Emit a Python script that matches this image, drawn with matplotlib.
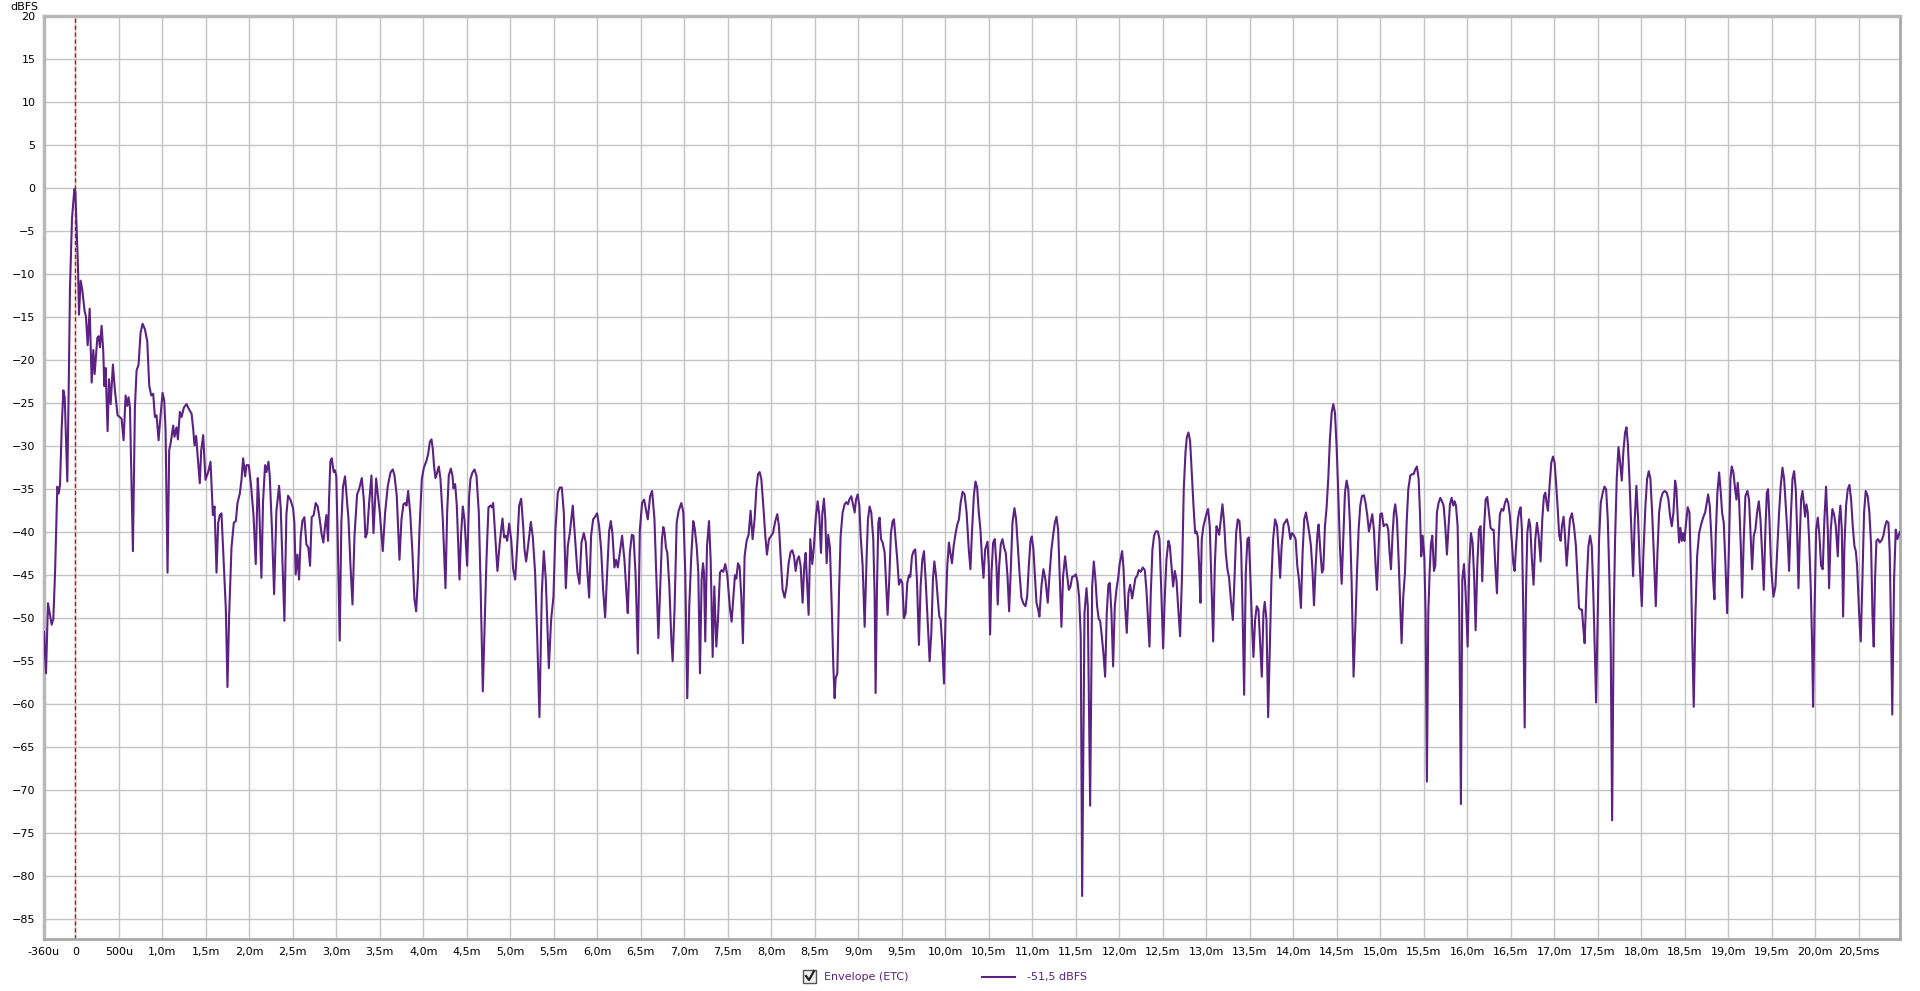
import matplotlib.pyplot as plt
from matplotlib.lines import Line2D
from matplotlib.patches import Rectangle

t_ms = [
    -0.36, -0.337, -0.314, -0.272, -0.253, -0.233, -0.207, -0.191, -0.176, -0.157,
    -0.138, -0.122, -0.092, -0.077, -0.061, -0.038, -0.011, 0.0, 0.015, 0.031,
    0.042, 0.061, 0.080, 0.107, 0.122, 0.142, 0.165, 0.188, 0.207, 0.222,
    0.253, 0.268, 0.283, 0.302, 0.321, 0.333, 0.348, 0.371, 0.387, 0.406,
    0.432, 0.455, 0.486, 0.532, 0.555, 0.578, 0.597, 0.612, 0.628, 0.662,
    0.685, 0.704, 0.727, 0.750, 0.773, 0.800, 0.827, 0.850, 0.873, 0.895,
    0.915, 0.934, 0.957, 0.980, 1.003, 1.022, 1.037, 1.060, 1.079, 1.098,
    1.125, 1.140, 1.163, 1.179, 1.202, 1.221, 1.248, 1.278, 1.309, 1.336,
    1.355, 1.370, 1.389, 1.408, 1.431, 1.447, 1.470, 1.496, 1.527, 1.554,
    1.569, 1.581, 1.600, 1.623, 1.642, 1.661, 1.680, 1.707, 1.730, 1.749,
    1.768, 1.795, 1.822, 1.845, 1.864, 1.891, 1.910, 1.929, 1.952, 1.967,
    1.994, 2.021, 2.048, 2.074, 2.097, 2.112, 2.139, 2.158, 2.181, 2.197,
    2.220, 2.235, 2.262, 2.285, 2.311, 2.342, 2.361, 2.384, 2.403, 2.426,
    2.445, 2.472, 2.503, 2.518, 2.533, 2.553, 2.572, 2.591, 2.610, 2.633,
    2.656, 2.679, 2.698, 2.717, 2.740, 2.763, 2.786, 2.809, 2.832, 2.851,
    2.870, 2.886, 2.905, 2.916, 2.931, 2.947, 2.970, 2.985, 3.000, 3.020,
    3.039, 3.058, 3.077, 3.100, 3.140, 3.163, 3.186, 3.209, 3.239, 3.262,
    3.293, 3.316, 3.335, 3.354, 3.377, 3.404, 3.427, 3.458, 3.477, 3.500,
    3.534, 3.561, 3.592, 3.623, 3.649, 3.669, 3.695, 3.726, 3.749, 3.772,
    3.791, 3.807, 3.826, 3.849, 3.875, 3.898, 3.918, 3.937, 3.956, 3.983,
    4.006, 4.036, 4.056, 4.075, 4.094, 4.109, 4.124, 4.140, 4.159, 4.178,
    4.197, 4.224, 4.255, 4.274, 4.293, 4.316, 4.335, 4.347, 4.366, 4.385,
    4.416, 4.435, 4.454, 4.473, 4.504, 4.527, 4.542, 4.565, 4.588, 4.611,
    4.638, 4.657, 4.684, 4.703, 4.726, 4.749, 4.772, 4.787, 4.803, 4.826,
    4.852, 4.879, 4.910, 4.929, 4.948, 4.964, 4.987, 5.010, 5.033, 5.056,
    5.079, 5.102, 5.125, 5.148, 5.163, 5.182, 5.209, 5.236, 5.259, 5.285,
    5.308, 5.335, 5.362, 5.385, 5.408, 5.443, 5.469, 5.496, 5.519, 5.546,
    5.569, 5.592, 5.615, 5.638, 5.661, 5.684, 5.718, 5.745, 5.772, 5.795,
    5.818, 5.845, 5.868, 5.887, 5.906, 5.929, 5.952, 5.975, 5.998, 6.021,
    6.044, 6.067, 6.090, 6.113, 6.136, 6.155, 6.174, 6.197, 6.216, 6.236,
    6.259, 6.285, 6.312, 6.335, 6.350, 6.374, 6.397, 6.416, 6.439, 6.466,
    6.489, 6.515, 6.538, 6.565, 6.580, 6.607, 6.630, 6.657, 6.680, 6.702,
    6.724, 6.743, 6.759, 6.774, 6.789, 6.805, 6.828, 6.851, 6.866, 6.889,
    6.912, 6.935, 6.966, 6.989, 7.011, 7.034, 7.057, 7.080, 7.103, 7.119,
    7.142, 7.161, 7.180, 7.199, 7.215, 7.226, 7.241, 7.261, 7.284, 7.303,
    7.326, 7.345, 7.368, 7.387, 7.410, 7.429, 7.448, 7.471, 7.494, 7.525,
    7.544, 7.567, 7.582, 7.598, 7.617, 7.636, 7.655, 7.674, 7.693, 7.716,
    7.739, 7.762, 7.785, 7.808, 7.828, 7.847, 7.866, 7.885, 7.908, 7.931,
    7.950, 7.973, 8.000, 8.019, 8.046, 8.069, 8.088, 8.107, 8.130, 8.153,
    8.176, 8.199, 8.222, 8.241, 8.261, 8.280, 8.299, 8.318, 8.337, 8.360,
    8.379, 8.395, 8.410, 8.429, 8.448, 8.471, 8.490, 8.513, 8.533, 8.552,
    8.571, 8.586, 8.605, 8.621, 8.636, 8.655, 8.674, 8.697, 8.713, 8.728,
    8.739, 8.759, 8.778, 8.797, 8.820, 8.843, 8.862, 8.881, 8.897, 8.920,
    8.939, 8.958, 8.974, 8.993, 9.012, 9.027, 9.050, 9.073, 9.096, 9.111,
    9.130, 9.149, 9.172, 9.188, 9.199, 9.215, 9.230, 9.245, 9.261, 9.280,
    9.303, 9.322, 9.337, 9.356, 9.375, 9.395, 9.410, 9.429, 9.448, 9.467,
    9.487, 9.506, 9.525, 9.544, 9.563, 9.582, 9.598, 9.617, 9.636, 9.655,
    9.674, 9.697, 9.716, 9.736, 9.755, 9.774, 9.797, 9.820, 9.839, 9.858,
    9.874, 9.893, 9.912, 9.931, 9.946, 9.966, 9.985, 10.004, 10.023, 10.042,
    10.061, 10.077, 10.096, 10.119, 10.138, 10.157, 10.176, 10.199, 10.222, 10.245,
    10.270, 10.289, 10.308, 10.328, 10.347, 10.366, 10.385, 10.404, 10.423, 10.439,
    10.458, 10.485, 10.500, 10.515, 10.531, 10.550, 10.569, 10.588, 10.603, 10.619,
    10.638, 10.657, 10.676, 10.695, 10.715, 10.734, 10.753, 10.772, 10.795, 10.814,
    10.833, 10.853, 10.875, 10.898, 10.921, 10.941, 10.960, 10.979, 10.994, 11.013,
    11.033, 11.048, 11.067, 11.082, 11.105, 11.128, 11.151, 11.178, 11.197, 11.220,
    11.239, 11.259, 11.278, 11.297, 11.316, 11.335, 11.354, 11.377, 11.397, 11.420,
    11.439, 11.458, 11.481, 11.500, 11.519, 11.538, 11.557, 11.573, 11.600, 11.623,
    11.638, 11.665, 11.688, 11.707, 11.726, 11.745, 11.764, 11.780, 11.799, 11.818,
    11.837, 11.856, 11.875, 11.891, 11.910, 11.929, 11.948, 11.967, 11.990, 12.004,
    12.033, 12.048, 12.067, 12.086, 12.105, 12.125, 12.148, 12.167, 12.186, 12.205,
    12.224, 12.247, 12.270, 12.293, 12.312, 12.331, 12.347, 12.362, 12.381, 12.400,
    12.420, 12.443, 12.462, 12.481, 12.504, 12.523, 12.542, 12.565, 12.581, 12.600,
    12.619, 12.638, 12.657, 12.676, 12.699, 12.722, 12.741, 12.761, 12.776, 12.795,
    12.814, 12.833, 12.853, 12.872, 12.887, 12.902, 12.918, 12.933, 12.948, 12.967,
    12.987, 13.006, 13.021, 13.040, 13.059, 13.079, 13.098, 13.117, 13.132, 13.148,
    13.167, 13.186, 13.205, 13.224, 13.243, 13.262, 13.282, 13.305, 13.324, 13.343,
    13.362, 13.381, 13.400, 13.416, 13.435, 13.454, 13.473, 13.489, 13.508, 13.527,
    13.542, 13.561, 13.580, 13.600, 13.619, 13.638, 13.657, 13.672, 13.692, 13.711,
    13.730, 13.749, 13.768, 13.791, 13.814, 13.833, 13.849, 13.866, 13.889, 13.908,
    13.927, 13.946, 13.966, 13.985, 14.004, 14.027, 14.046, 14.065, 14.088, 14.107,
    14.126, 14.146, 14.165, 14.184, 14.203, 14.222, 14.238, 14.257, 14.276, 14.291,
    14.310, 14.330, 14.345, 14.364, 14.383, 14.402, 14.421, 14.441, 14.460, 14.479,
    14.498, 14.517, 14.536, 14.556, 14.575, 14.594, 14.613, 14.632, 14.651, 14.670,
    14.693, 14.713, 14.732, 14.751, 14.770, 14.789, 14.812, 14.831, 14.851, 14.870,
    14.889, 14.908, 14.927, 14.946, 14.962, 14.981, 15.000, 15.019, 15.038, 15.057,
    15.077, 15.092, 15.107, 15.123, 15.142, 15.157, 15.172, 15.192, 15.211, 15.230,
    15.245, 15.264, 15.284, 15.303, 15.322, 15.345, 15.364, 15.383, 15.402, 15.421,
    15.441, 15.456, 15.471, 15.487, 15.506, 15.521, 15.536, 15.552, 15.567, 15.582,
    15.598, 15.617, 15.632, 15.651, 15.670, 15.690, 15.709, 15.728, 15.747, 15.766,
    15.785, 15.801, 15.820, 15.839, 15.854, 15.870, 15.889, 15.908, 15.927, 15.943,
    15.962, 15.981, 16.004, 16.023, 16.042, 16.061, 16.080, 16.096, 16.115, 16.134,
    16.153, 16.172, 16.192, 16.211, 16.230, 16.249, 16.268, 16.287, 16.303, 16.322,
    16.341, 16.360, 16.375, 16.395, 16.414, 16.433, 16.452, 16.471, 16.490, 16.510,
    16.529, 16.544, 16.563, 16.582, 16.598, 16.613, 16.628, 16.644, 16.660, 16.674,
    16.690, 16.709, 16.724, 16.743, 16.762, 16.782, 16.801, 16.820, 16.843, 16.862,
    16.881, 16.897, 16.912, 16.927, 16.946, 16.966, 16.985, 17.004, 17.023, 17.042,
    17.057, 17.073, 17.088, 17.107, 17.123, 17.142, 17.161, 17.180, 17.203, 17.226,
    17.249, 17.268, 17.284, 17.303, 17.318, 17.333, 17.349, 17.374, 17.393, 17.412,
    17.431, 17.450, 17.469, 17.481, 17.500, 17.515, 17.534, 17.557, 17.577, 17.596,
    17.615, 17.634, 17.649, 17.665, 17.684, 17.699, 17.718, 17.738, 17.757, 17.776,
    17.795, 17.814, 17.830, 17.845, 17.864, 17.883, 17.906, 17.925, 17.944, 17.964,
    17.983, 18.006, 18.025, 18.048, 18.067, 18.086, 18.105, 18.125, 18.144, 18.167,
    18.186, 18.205, 18.224, 18.247, 18.270, 18.293, 18.312, 18.331, 18.351, 18.370,
    18.389, 18.404, 18.420, 18.435, 18.450, 18.466, 18.481, 18.496, 18.515, 18.534,
    18.554, 18.573, 18.588, 18.603, 18.623, 18.642, 18.665, 18.688, 18.711, 18.734,
    18.753, 18.768, 18.787, 18.807, 18.826, 18.841, 18.856, 18.875, 18.895, 18.914,
    18.929, 18.948, 18.967, 18.987, 19.006, 19.025, 19.040, 19.059, 19.079, 19.094,
    19.109, 19.124, 19.144, 19.159, 19.178, 19.197, 19.220, 19.239, 19.259, 19.274,
    19.293, 19.312, 19.331, 19.351, 19.370, 19.389, 19.408, 19.427, 19.443, 19.458,
    19.473, 19.492, 19.519, 19.542, 19.561, 19.584, 19.603, 19.623, 19.642, 19.661,
    19.680, 19.699, 19.718, 19.738, 19.757, 19.776, 19.791, 19.807, 19.822, 19.837,
    19.853, 19.868, 19.883, 19.898, 19.914, 19.929, 19.948, 19.964, 19.975, 19.991,
    20.010, 20.029, 20.048, 20.067, 20.086, 20.105, 20.124, 20.144, 20.159, 20.178,
    20.197, 20.216, 20.236, 20.259, 20.274, 20.289, 20.305, 20.320, 20.335, 20.354,
    20.374, 20.393, 20.412, 20.431, 20.450, 20.466, 20.481, 20.504, 20.523, 20.542,
    20.561, 20.580, 20.603, 20.622, 20.642, 20.657, 20.672, 20.687, 20.703, 20.722,
    20.741, 20.764, 20.783, 20.802, 20.821, 20.841, 20.856, 20.871, 20.885, 20.906,
    20.925, 20.944, 20.970,
]

level_db = [
    -51.6, -56.4, -48.25, -50.75, -50.1, -44.7, -34.7, -35.5, -34.5, -28,
    -23.5, -24.3, -34.1, -23.9, -11.4, -3.5, -0.1, -0.3, -4.7, -9.3,
    -14.7, -10.75, -11.8, -14.3, -14.9, -18.25, -14, -22.6, -18.8, -21.6,
    -17.4, -17.2, -18.5, -16, -18.9, -23, -20.9, -28.25, -22.2, -25.1,
    -20.5, -23.5, -26.4, -26.8, -29.3, -24.1, -25.3, -24.3, -25.5, -42.2,
    -25.5, -21.2, -20.5, -16.8, -15.75, -16.4, -17.8, -23, -24.1, -23.9,
    -26.6, -26.4, -29.3, -26.4, -23.8, -24.7, -28, -44.7, -30.5, -29.5,
    -27.6, -28.9, -27.8, -29.2, -26, -26.6, -25.5, -25.1, -25.75, -26.2,
    -28, -29.9, -28.8, -31.4, -34.3, -30.5, -28.7, -33.9, -33, -31.8,
    -35.1, -38, -37, -44.7, -38.9, -38, -37.8, -43.7, -48.9, -58,
    -49.7, -41.8, -38.9, -38.7, -36.6, -35.5, -33.9, -31.4, -33.5, -32.2,
    -32.2, -34.7, -38, -43.7, -33.7, -36.4, -45.3, -36.4, -32.2, -33,
    -31.8, -33.5, -40.1, -47.2, -37.6, -34.6, -37.2, -44.3, -50.3, -38,
    -35.75, -36.2, -37.2, -38.9, -44.9, -42.6, -45.5, -40.5, -38.7, -38.25,
    -41.4, -41.8, -43.9, -38.25, -38, -36.6, -37, -38.5, -40.3, -41.2,
    -39.3, -38, -41, -36.4, -31.8, -31.4, -33, -32.8, -33.5, -42.6,
    -52.6, -38.9, -34.7, -33.5, -38.5, -43.9, -48.4, -40.4, -35.6, -35,
    -33.7, -36.2, -40.6, -40.1, -36.6, -33.4, -40.1, -33.75, -35.6, -37.7,
    -42.2, -37.7, -34.6, -33.05, -32.7, -33.4, -35.8, -43.2, -38.5, -36.75,
    -36.6, -36.9, -35.2, -37.7, -42.4, -47.8, -49.2, -45.5, -39.7, -33.8,
    -32.5, -31.7, -30.9, -29.5, -29.2, -30.3, -32.35, -33.7, -33.05, -32.35,
    -33.8, -38.5, -46.5, -37.7, -33.4, -32.6, -33.4, -34.9, -34.4, -36.9,
    -45.5, -40.1, -37, -38.5, -43.9, -35.8, -33.8, -33.05, -32.7, -33.4,
    -37.7, -45.5, -58.5, -51.7, -43.2, -37.1, -36.9, -37.1, -36.6, -40.4,
    -44.5, -41.2, -38.4, -40.6, -40.4, -41, -39, -40.8, -44.3, -45.5,
    -41.6, -36.9, -36.1, -39.3, -42, -43.4, -41.2, -38.8, -40.6, -44.7,
    -51.7, -61.5, -47.1, -42.2, -45.5, -55.8, -50.2, -47.5, -39.7, -35.4,
    -34.8, -34.8, -37.7, -46.5, -41.6, -40.1, -36.9, -40.8, -44.7, -46,
    -41.2, -40.1, -41.2, -44.7, -47.6, -40.4, -38.5, -38.2, -37.8, -39.3,
    -42, -46.7, -49.9, -44.7, -39.9, -38.7, -40.1, -44.1, -43.2, -44.1,
    -42.4, -40.4, -43.2, -47.1, -49.4, -42.4, -40.3, -40.4, -44.7, -54.1,
    -39.7, -36.6, -36.2, -37.7, -38.5, -35.8, -35.2, -38.5, -45.5, -52.3,
    -46.2, -40.8, -39.4, -40.1, -41.8, -42.4, -46.3, -52.5, -55, -48.6,
    -38.9, -37.5, -36.6, -37.7, -44.7, -59.3, -48.6, -42.8, -38.7, -39.5,
    -41.6, -44.7, -56.4, -45.5, -43.6, -44.7, -52.7, -41.6, -38.7, -43.2,
    -54.5, -46.3, -53.3, -50.2, -44.7, -44.4, -44.6, -43.7, -45, -48.9,
    -50.4, -47.1, -45, -45.4, -43.6, -44, -47.5, -52.9, -42.8, -41,
    -40.3, -37.5, -40.8, -38.5, -35, -33.25, -33, -33.8, -36.9, -40.4,
    -42.6, -40.8, -40.4, -40.1, -38.7, -37.9, -39.3, -42.8, -46.7, -47.6,
    -46.3, -43.6, -42.3, -42.1, -42.8, -44.5, -43.2, -42.8, -43.9, -48.2,
    -43.9, -42.4, -45.5, -49.6, -40.8, -43.7, -41.6, -38.1, -36.4, -38.1,
    -42.4, -37.9, -36.1, -38.5, -43.6, -40.3, -41.8, -49.4, -55.6, -59.3,
    -57, -56.4, -47.1, -40.4, -37.7, -36.75, -36.5, -36.75, -36.2, -35.8,
    -36.75, -37.7, -36.2, -35.6, -36.9, -40.4, -43.9, -51, -42.8, -38.5,
    -37, -37.7, -40.8, -47.5, -58.7, -46.3, -38.9, -38.3, -40.8, -41.2,
    -42.4, -46.3, -49.6, -45.5, -40.1, -38.7, -38.5, -40.8, -43.2, -46.1,
    -45.5, -45.9, -50, -49.4, -45.9, -45, -45.2, -42.8, -42.2, -42,
    -45.5, -53.1, -46.3, -43.2, -42.2, -45.5, -50.2, -55, -51.8, -45.5,
    -43.4, -45, -47.5, -49.8, -50.1, -53.3, -57.6, -49.4, -43.9, -41.2,
    -42.6, -43.6, -41.6, -40.1, -39.1, -38.5, -36.6, -35.3, -35.6, -37.7,
    -42, -44.3, -39.7, -35.8, -34.1, -34.8, -37.7, -39.7, -43.2, -45.3,
    -42, -41.1, -43.9, -51.9, -44.7, -41.2, -40.8, -43.9, -48.4, -43.9,
    -41.4, -40.8, -41.8, -42.4, -45.1, -49.2, -44.3, -38.9, -37.2, -38.5,
    -41.6, -44.7, -47.6, -48.3, -48.6, -47.5, -43.9, -41, -40.5, -42,
    -45.5, -48.2, -49, -49.8, -46.3, -44.3, -45.5, -48.2, -45.1, -42,
    -40.4, -38.9, -38.2, -39.7, -45.5, -51, -45.1, -42.8, -44.7, -46.7,
    -46.3, -45.2, -45.1, -44.9, -45.7, -47.5, -52.1, -82.3, -49.4, -46.5,
    -48.6, -71.8, -46.3, -43.4, -45.5, -48.6, -50.1, -50.3, -52.1, -54.1,
    -56.8, -49.4, -46.1, -45.9, -49.4, -55.6, -48.6, -46.7, -45.1, -43.7,
    -42.2, -44.1, -48.6, -51.7, -47.1, -46.1, -47.7, -46.5, -45.3, -45.1,
    -44.4, -44.6, -44.1, -44.4, -46.7, -50.2, -53.3, -47.1, -42, -40.4,
    -39.9, -39.9, -40.8, -46.3, -53.5, -47.5, -43.2, -41, -41.6, -43.9,
    -46.3, -44.5, -45.5, -48.6, -52.1, -44.7, -35, -30.7, -29, -28.4,
    -29.4, -33, -36.9, -40.1, -39.9, -40.5, -43.9, -48.2, -40.8, -39.3,
    -38.5, -37.7, -37.3, -39.3, -45.9, -52.7, -43.9, -39.3, -39.7, -40.3,
    -38.5, -36.75, -38.9, -42.4, -44.3, -45.3, -47.8, -50.2, -45.5, -40.1,
    -38.5, -38.7, -41.6, -48.6, -58.9, -44.7, -40.8, -40.6, -45.5, -51,
    -54.5, -50.2, -48.6, -49, -52.9, -56.8, -49.4, -48.1, -50.2, -61.5,
    -53.3, -45.5, -40.8, -38.5, -39.3, -42.4, -45.3, -41.6, -39.1, -38.8,
    -38.5, -39.3, -40.8, -40.1, -40.3, -40.8, -43.9, -45.5, -48.8, -42.4,
    -38.5, -37.7, -38.9, -40.1, -41.6, -44.7, -48.5, -43.9, -40.4, -39.1,
    -42, -44.7, -44.3, -39.3, -37.1, -33.8, -29.2, -26.1, -25.1, -26.1,
    -30, -35.4, -41.6, -46, -40.8, -35.4, -34, -35, -38.9, -45.5,
    -56.8, -51, -44.7, -39.7, -36.9, -35.8, -35.7, -36.6, -38.1, -39.9,
    -38.9, -37.9, -39.7, -43.9, -46.7, -41.6, -37.9, -37.8, -39.3, -39.1,
    -39.1, -39.7, -42.4, -44.3, -40.1, -37.7, -36.75, -38.5, -43.2, -48.6,
    -52.9, -47.5, -44.7, -38.9, -35, -33.4, -33.25, -33.25, -32.7, -32.35,
    -33.8, -37.7, -42.8, -40.4, -42.8, -49.4, -69, -49.4, -44.7, -41.4,
    -40.4, -44.5, -43.9, -37.7, -36.6, -36, -36.4, -36.9, -39.3, -42.6,
    -39.3, -36.75, -36, -36.9, -36.4, -36.9, -39.3, -49.4, -71.6, -45.5,
    -43.7, -47.1, -53.3, -43.9, -40.1, -41.2, -45.5, -51.4, -43.9, -39.7,
    -39.3, -45.7, -39.7, -36.2, -35.9, -37.7, -39.5, -39.7, -39.7, -43.9,
    -47.1, -40.8, -37.9, -37.3, -37.5, -36.6, -36.1, -36.6, -38.1, -40.8,
    -43.6, -44.5, -41.2, -38.5, -37.5, -37.1, -39.7, -49.4, -62.7, -47.5,
    -40.1, -38.5, -39.3, -43.2, -46.1, -40.8, -38.9, -40.4, -43.4, -38.5,
    -35.8, -35.4, -36.6, -37.5, -34.6, -31.9, -31.2, -31.9, -34.6, -37.7,
    -40.4, -41, -39.3, -38.2, -40.4, -43.9, -41.2, -38.5, -37.8, -39.3,
    -41.6, -45.5, -48.8, -49, -49, -51, -52.9, -45.5, -41.6, -40.4,
    -41.6, -47.5, -55.3, -59.8, -49.4, -40.8, -36.6, -35.4, -34.7, -35,
    -38.5, -45.5, -53.3, -73.5, -49.4, -40.8, -33.8, -30.1, -31.9, -34,
    -30.5, -28.4, -27.8, -29.6, -33.8, -38.9, -45.1, -38.5, -34.6, -38.5,
    -43.9, -48.6, -42.4, -36.9, -33.8, -32.9, -33.8, -37.7, -42.4, -48.6,
    -42.4, -37.7, -36.2, -35.4, -35.2, -35.4, -36.2, -38.1, -39.3, -37.7,
    -34, -35, -38.5, -41.2, -39.5, -41, -40.1, -41, -38.9, -37.1,
    -37.7, -45.5, -53.3, -60.3, -49.4, -42.8, -40.1, -39.1, -38.3, -37.7,
    -36.6, -35.6, -36.9, -40.8, -45.5, -47.8, -40.4, -35.4, -33.05, -35.4,
    -37.7, -38.9, -43.6, -49.4, -42.4, -33.8, -32.35, -33.05, -35, -36.2,
    -34.25, -36.2, -41.6, -47.6, -40.8, -35.8, -35.2, -36.2, -40.8, -44.3,
    -40.4, -39.7, -37.7, -36.4, -38.5, -42.4, -46.7, -39.7, -35.4, -35,
    -38.5, -43.9, -47.5, -46.3, -42.4, -37.7, -34.6, -32.5, -33.8, -36.9,
    -40.1, -44.5, -38.5, -33.8, -32.9, -35, -39.7, -46.5, -40.8, -36.2,
    -35.2, -36.6, -38.2, -36.75, -37.7, -40.8, -46.3, -53.3, -60.3, -49.4,
    -39.7, -38.3, -40.4, -43.9, -44.3, -38.5, -34.7, -39.7, -46.5, -39.7,
    -37.3, -37.9, -39.3, -42.8, -38.5, -36.9, -39.7, -49.8, -41.6, -36.9,
    -35, -34.5, -36.2, -39.3, -41.6, -42.2, -43.9, -49.4, -52.7, -45.5,
    -37.7, -35.2, -35.8, -37.7, -41.6, -49.4, -53.3, -45.5, -41, -40.8,
    -41.2, -40.9, -40.4, -39.3, -38.7, -38.9, -42.4, -51.4, -61.2, -45.5,
    -39.7, -40.8, -40.0,
]

x_ticks = [-0.36] + [k * 0.5 for k in range(42)]
x_labels = [
    '-360u', '0', '500u', '1,0m', '1,5m', '2,0m', '2,5m', '3,0m', '3,5m', '4,0m',
    '4,5m', '5,0m', '5,5m', '6,0m', '6,5m', '7,0m', '7,5m', '8,0m', '8,5m', '9,0m',
    '9,5m', '10,0m', '10,5m', '11,0m', '11,5m', '12,0m', '12,5m', '13,0m', '13,5m',
    '14,0m', '14,5m', '15,0m', '15,5m', '16,0m', '16,5m', '17,0m', '17,5m', '18,0m',
    '18,5m', '19,0m', '19,5m', '20,0m', '20,5ms',
]
y_ticks = list(range(-85, 21, 5))

purple = '#5b2283'
W, H = 1920, 991

fig = plt.figure(figsize=(W / 100, H / 100), dpi=100)
fig.patch.set_facecolor('white')

# zone de tracé
ax = fig.add_axes([44 / W, 1 - 939 / H, (1900 - 44) / W, (939 - 16) / H])
ax.set_xlim(-0.36, 20.974)
ax.set_ylim(-87.3, 20.03)

ax.set_xticks(x_ticks)
ax.set_xticklabels(x_labels)
ax.set_yticks(y_ticks)
ax.tick_params(length=0, labelsize=8, colors='black', pad=6)
ax.grid(True, color='#c4c4c4', linewidth=1.0)
ax.set_axisbelow(True)

for side in ['left', 'top']:
    ax.spines[side].set_color('#b8b8b8')
    ax.spines[side].set_linewidth(2.5)
for side in ['right', 'bottom']:
    ax.spines[side].set_color('#a8a8a8')
    ax.spines[side].set_linewidth(2.0)

# repère t = 0
ax.axvline(0, color='#e00000', linewidth=1.0, linestyle=(0, (3, 2)), zorder=2)

ax.plot(t_ms, level_db, color=purple, linewidth=1.5, zorder=3)

fig.text(38 / W, 1 - 7 / H, 'dBFS', ha='right', va='center', fontsize=8)

# légende du bas
box = Rectangle((803 / W, 1 - 983 / H), 13 / W, 13 / H, transform=fig.transFigure,
                facecolor='#f2f2f2', edgecolor='#555555', linewidth=1.0)
fig.patches.append(box)
fig.lines.append(Line2D([806 / W, 809 / W, 814 / W], [1 - 976 / H, 1 - 980 / H, 1 - 971 / H],
                        transform=fig.transFigure, color='#222222', linewidth=1.6))
fig.text(824 / W, 1 - 977 / H, 'Envelope (ETC)', ha='left', va='center', fontsize=8, color=purple)
fig.lines.append(Line2D([982 / W, 1015 / W], [1 - 977 / H, 1 - 977 / H],
                        transform=fig.transFigure, color=purple, linewidth=1.5))
fig.text(1027 / W, 1 - 977 / H, '-51,5 dBFS', ha='left', va='center', fontsize=8, color=purple)

fig.savefig('out.png', dpi=100)
